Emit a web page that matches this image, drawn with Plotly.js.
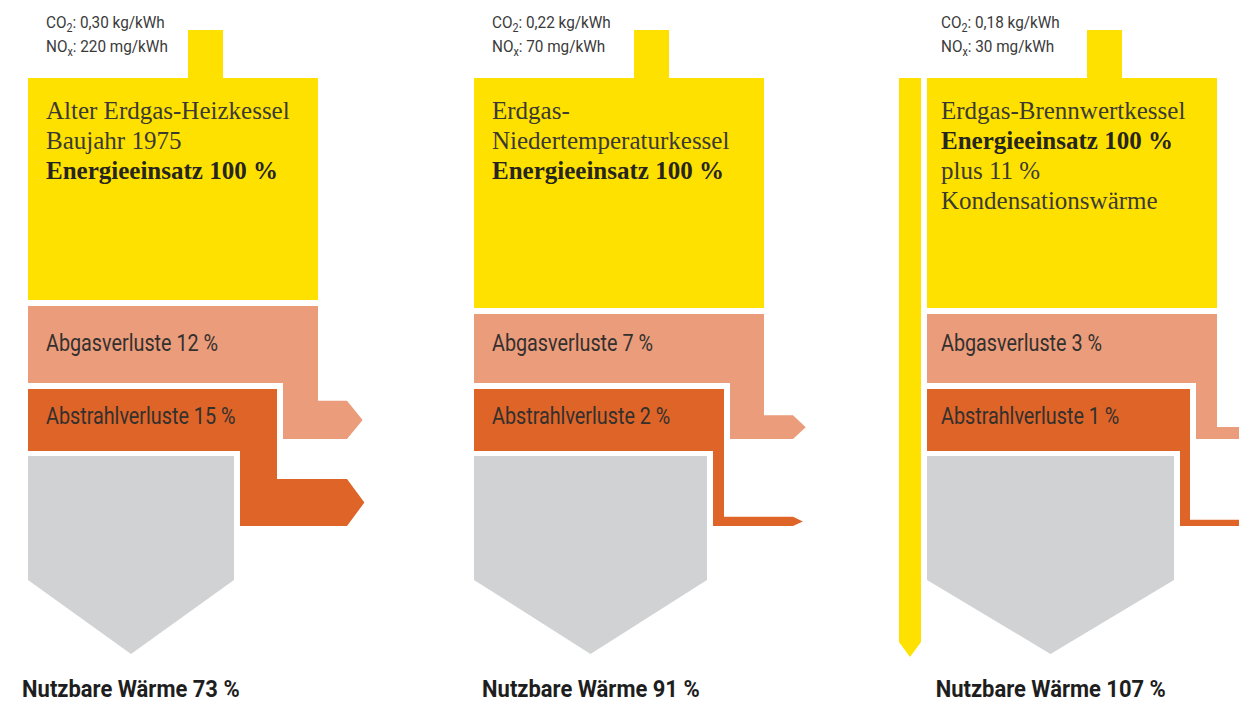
<!DOCTYPE html>
<html>
<head>
<meta charset="utf-8">
<script src="https://cdn.plot.ly/plotly-3.0.1.min.js"></script>
<style>
  html, body { margin: 0; padding: 0; background: #ffffff; }
  #chart { width: 1239px; height: 704px; }
</style>
</head>
<body>
<div id="chart"></div>
<script>
// ---------------- DATA ----------------
const titleLines = [
  ['Alter Erdgas-Heizkessel', 'Baujahr 1975'],
  ['Erdgas-', 'Niedertemperaturkessel'],
  ['Erdgas-Brennwertkessel']
];
const extraLines = [[], [], ['plus 11 %', 'Kondensationswärme']];
const co2Values = ['0,30', '0,22', '0,18'];      // kg/kWh
const noxValues = ['220', '70', '30'];           // mg/kWh
const energyInput = [100, 100, 100];             // %
const condensationHeat = [0, 0, 11];             // %
const exhaustLoss = [12, 7, 3];                  // % Abgasverluste
const radiationLoss = [15, 2, 1];                // % Abstrahlverluste
const usefulHeat = [73, 91, 107];                // % Nutzbare Wärme

// ---------------- LAYOUT / STYLE ----------------
const W = 1239, H = 704;
const panelLeft = [28, 474, 927];
const textIndent = [17, 17, 13];
const boxW = 290;
const boxTop = 78;
const chimney = { dx: 160, w: 35, top: 30 };
const yellowBottom = [300, 308, 308];
const gap = 6;
const exhaustDrop = [35, 34, 21];
const radiationDrop = [37, 11, 10];
const exhaustBottom = 383;
const radTop = 389, radBottom = 451;
const exhaustArrowBottom = 439, radArrowBottom = 526;
const arrowReach = 319;
const grayTop = 456, graySide = 580, grayTip = 654;
const pxPerPct = 2.9, arrowBase = 3.4;
const condPxPerPct = 2, condBottom = 642, condTip = 657;

const COL = {
  yellow: '#FFE100',
  salmon: '#EB9C7B',
  orange: '#DE6428',
  gray: '#D1D2D4',
  text: '#333333',
  title: '#3b3a32'
};

const traces = [];
function poly(xs, ys, color) {
  traces.push({
    type: 'scatter', mode: 'lines', x: xs.concat([xs[0]]), y: ys.concat([ys[0]]),
    fill: 'toself', fillcolor: color, line: { width: 0, color: color },
    hoverinfo: 'skip', showlegend: false
  });
}

const annotations = [];
const squeeze = [];   // horizontal squeeze factor for each annotation (1 = none)
function txt(x, y, text, size, family, anchor, color, sq) {
  const a = anchor || 'left';
  annotations.push({
    x: x, y: y, xref: 'x', yref: 'y', text: text, showarrow: false,
    xanchor: a, align: a, yanchor: 'middle', borderpad: 0,
    font: { size: size, family: family, color: color || COL.text }
  });
  squeeze.push(sq || 1);
}
const SERIF = 'Liberation Serif';
const SANS = 'Roboto';

for (let i = 0; i < 3; i++) {
  const L = panelLeft[i], R = L + boxW;
  // chimney
  poly([L + chimney.dx, L + chimney.dx + chimney.w, L + chimney.dx + chimney.w, L + chimney.dx],
       [chimney.top, chimney.top, boxTop + 1, boxTop + 1], COL.yellow);
  // yellow energy box (100 %)
  poly([L, R, R, L], [boxTop, boxTop, yellowBottom[i], yellowBottom[i]], COL.yellow);

  // condensation side bar
  if (condensationHeat[i] > 0) {
    const cw = condensationHeat[i] * condPxPerPct;
    const cr = L - gap, cl = cr - cw;
    poly([cl, cr, cr, (cl + cr) / 2, cl], [boxTop, boxTop, condBottom, condTip, condBottom], COL.yellow);
  }

  // exhaust loss band
  const tipBase = L + arrowReach;
  const eh = arrowBase + pxPerPct * exhaustLoss[i];
  const eTop = exhaustArrowBottom - eh;
  const eDepth = 8 + 0.2 * eh;
  const eTopY = yellowBottom[i] + gap;
  const eL = R - exhaustDrop[i];
  poly([L, R, R, tipBase, tipBase + eDepth, tipBase, eL, eL, L],
       [eTopY, eTopY, eTop, eTop, (eTop + exhaustArrowBottom) / 2, exhaustArrowBottom, exhaustArrowBottom, exhaustBottom, exhaustBottom],
       COL.salmon);

  // radiation loss band
  const R2 = eL - gap;
  const rh = arrowBase + pxPerPct * radiationLoss[i];
  const rTop = radArrowBottom - rh;
  const rDepth = 8 + 0.2 * rh;
  const rL = R2 - radiationDrop[i];
  poly([L, R2, R2, tipBase, tipBase + rDepth, tipBase, rL, rL, L],
       [radTop, radTop, rTop, rTop, (rTop + radArrowBottom) / 2, radArrowBottom, radArrowBottom, radBottom, radBottom],
       COL.orange);

  // useful heat pentagon
  const gR = rL - gap;
  const gC = (L + gR) / 2;
  poly([L, gR, gR, gC, L], [grayTop, grayTop, graySide, grayTip, graySide], COL.gray);

  // texts
  const tx = L + textIndent[i];
  txt(tx, 23, 'CO<sub>2</sub>: ' + co2Values[i] + ' kg/kWh', 17, SANS, 'left', '#3a3a3a', 0.9);
  txt(tx, 47, 'NO<sub>x</sub>: ' + noxValues[i] + ' mg/kWh', 17, SANS, 'left', '#3a3a3a', 0.9);
  let ly = 110;
  titleLines[i].forEach(t => { txt(tx, ly, t, 25, SERIF, 'left', COL.title); ly += 30; });
  txt(tx, ly, '<b>Energieeinsatz ' + energyInput[i] + ' %</b>', 25, SERIF, 'left', '#262520'); ly += 30;
  extraLines[i].forEach(t => { txt(tx, ly, t, 25, SERIF, 'left', COL.title); ly += 30; });
  txt(tx, 343, 'Abgasverluste ' + exhaustLoss[i] + ' %', 23, SANS, 'left', '#33302e', 0.86);
  txt(tx, 416, 'Abstrahlverluste ' + radiationLoss[i] + ' %', 23, SANS, 'left', '#33302e', 0.86);
  txt(gC, 689, '<b>Nutzbare Wärme ' + usefulHeat[i] + ' %</b>', 24, SANS, 'center', '#1e1e1e', 0.915);
}

const layout = {
  width: W, height: H,
  margin: { l: 0, r: 0, t: 0, b: 0, pad: 0 },
  paper_bgcolor: '#ffffff', plot_bgcolor: '#ffffff',
  xaxis: { range: [0, W], visible: false, fixedrange: true },
  yaxis: { range: [H, 0], visible: false, fixedrange: true },
  showlegend: false,
  annotations: annotations
};
Plotly.newPlot('chart', traces, layout, { staticPlot: true, displayModeBar: false }).then(gd => {
  // condensed look for the sans-serif labels (horizontal squeeze around the anchor point)
  gd.querySelectorAll('g.annotation').forEach(g => {
    const idx = parseInt(g.getAttribute('data-index'), 10);
    const f = squeeze[idx];
    if (!f || f === 1) return;
    const el = g.querySelector('text.annotation-text');
    if (!el) return;
    const bb = el.getBBox();
    const a = annotations[idx].xanchor;
    const x0 = a === 'center' ? bb.x + bb.width / 2 : bb.x;
    el.setAttribute('transform', 'translate(' + x0 + ',0) scale(' + f + ',1) translate(' + (-x0) + ',0)');
  });
});
</script>
</body>
</html>
